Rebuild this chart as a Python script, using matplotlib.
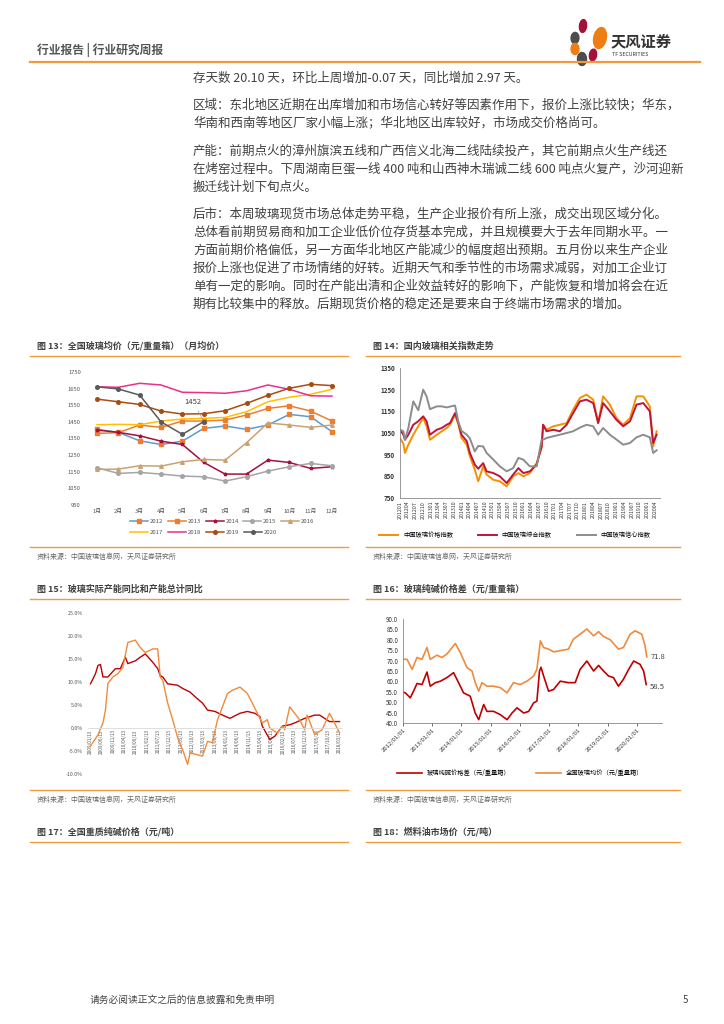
import matplotlib
matplotlib.use('Agg')
import matplotlib.pyplot as plt
from matplotlib.patches import Ellipse
from matplotlib.lines import Line2D

plt.rcParams['font.family'] = ['Noto Sans CJK SC', 'DejaVu Sans']

# ---------------- data ----------------
months = ['1月', '2月', '3月', '4月', '5月', '6月', '7月', '8月', '9月', '10月', '11月', '12月']
y2012 = [1405, 1387, 1336, 1314, 1334, 1411, 1425, 1405, 1431, 1495, 1481, 1391]
y2013 = [1381, 1385, 1431, 1417, 1455, 1455, 1461, 1491, 1531, 1547, 1515, 1455]
y2014 = [1401, 1387, 1366, 1334, 1314, 1206, 1136, 1136, 1220, 1206, 1170, 1180]
y2015 = [1174, 1140, 1146, 1136, 1124, 1120, 1094, 1120, 1154, 1180, 1200, 1186]
y2016 = [1164, 1166, 1186, 1184, 1210, 1224, 1220, 1324, 1444, 1431, 1417, 1431]
y2017 = [1433, 1435, 1433, 1455, 1467, 1471, 1477, 1511, 1571, 1598, 1616, 1646]
y2018 = [1661, 1658, 1682, 1672, 1628, 1626, 1622, 1637, 1672, 1646, 1607, 1605]
y2019 = [1587, 1571, 1555, 1515, 1497, 1499, 1517, 1561, 1610, 1652, 1676, 1668]
y2020 = [1661, 1648, 1611, 1450, 1375, 1452]

# chart 14 : glass indices (decimal year)
idx_t = [2012.00, 2012.11, 2012.16, 2012.27, 2012.43, 2012.59, 2012.75, 2012.86, 2012.97, 2013.19,
         2013.35, 2013.51, 2013.62, 2013.78, 2013.89, 2013.99, 2014.16, 2014.26, 2014.42, 2014.53,
         2014.69, 2014.80, 2015.02, 2015.23, 2015.45, 2015.66, 2015.83, 2015.99, 2016.20, 2016.42,
         2016.58, 2016.63, 2016.74, 2016.96, 2017.17, 2017.39, 2017.60, 2017.82, 2018.03, 2018.25,
         2018.41, 2018.57, 2018.79, 2019.00, 2019.22, 2019.44, 2019.65, 2019.87, 2020.08, 2020.19, 2020.30]
idx_confidence = [1065, 1058, 1019, 1073, 1196, 1155, 1250, 1219, 1160, 1173,
                  1173, 1168, 1172, 1177, 1100, 1060, 1042, 1025, 965, 990,
                  988, 958, 927, 896, 873, 888, 935, 927, 896, 896,
                  1019, 1019, 1027, 1035, 1042, 1050, 1058, 1075, 1088, 1081,
                  1042, 1073, 1042, 1020, 996, 1004, 1030, 1042, 1030, 958, 970]
idx_composite = [1065, 1042, 1019, 1042, 1088, 1104, 1127, 1104, 1042, 1065,
                 1073, 1088, 1096, 1142, 1096, 1042, 1012, 958, 904, 885,
                 911, 873, 865, 850, 819, 858, 888, 865, 873, 904,
                 988, 1088, 1058, 1065, 1058, 1088, 1142, 1196, 1204, 1188,
                 1096, 1188, 1150, 1111, 1081, 1104, 1181, 1188, 1150, 1004, 1042]
idx_price = [1027, 1000, 958, 996, 1042, 1081, 1119, 1081, 1019, 1042,
             1058, 1073, 1088, 1135, 1088, 1027, 996, 942, 881, 827,
             896, 858, 834, 827, 804, 850, 865, 850, 865, 911,
             981, 1088, 1065, 1081, 1088, 1096, 1158, 1212, 1227, 1204,
             1096, 1219, 1181, 1119, 1088, 1119, 1219, 1219, 1173, 988, 1058]
idx_ticks = ['201201', '201204', '201207', '201210', '201301', '201304', '201307', '201310',
             '201401', '201404', '201407', '201410', '201501', '201504', '201507', '201510',
             '201601', '201604', '201607', '201610', '201701', '201704', '201707', '201710',
             '201801', '201804', '201807', '201810', '201901', '201904', '201907', '201910',
             '202001', '202004']

# chart 15 : capacity YoY (%), position along axis 0..1
cap_t_red = [0.00, 0.01, 0.02, 0.03, 0.04, 0.05, 0.07, 0.10, 0.12, 0.14, 0.15, 0.18, 0.20, 0.22,
             0.25, 0.27, 0.28, 0.29, 0.31, 0.35, 0.37, 0.40, 0.42, 0.45, 0.47, 0.50, 0.53, 0.56,
             0.60, 0.63, 0.66, 0.68, 0.69, 0.72, 0.74, 0.77, 0.80, 0.82, 0.86, 0.90, 0.92, 0.96, 1.00]
cap_red = [9.6, 10.7, 11.8, 13.6, 13.8, 11.1, 11.1, 12.9, 12.9, 15.4, 14.0, 14.6, 15.4, 16.1,
           14.3, 12.9, 11.4, 11.1, 9.6, 9.3, 8.6, 7.8, 6.8, 5.4, 3.9, 3.6, 2.8, 2.1,
           3.2, 3.6, 3.2, 2.5, 0.4, -2.5, -1.8, 0.4, 0.7, 1.1, 2.1, 2.8, 2.8, 1.4, 1.4]
cap_t_or = [0.00, 0.03, 0.05, 0.06, 0.07, 0.09, 0.11, 0.13, 0.15, 0.18, 0.20, 0.22, 0.25, 0.27,
            0.28, 0.29, 0.29, 0.31, 0.33, 0.35, 0.36, 0.37, 0.39, 0.40, 0.42, 0.45, 0.47, 0.49,
            0.51, 0.53, 0.55, 0.57, 0.60, 0.63, 0.65, 0.67, 0.69, 0.71, 0.72, 0.75, 0.77, 0.78,
            0.80, 0.84, 0.86, 0.87, 0.90, 0.93, 0.96, 0.98, 1.00]
cap_orange = [-3.9, -1.5, 1.1, 3.9, 9.7, 11.1, 11.8, 13.2, 18.6, 19.1, 17.5, 16.4, 17.2, 17.2,
              11.1, 10.4, 10.4, 5.4, 1.8, -2.1, -3.6, -4.7, -7.9, -5.4, -5.7, -6.1, -2.9, -3.2,
              1.8, 4.6, 7.5, 8.2, 8.9, 7.5, 5.4, 3.2, 1.1, 1.8, 0.0, -1.1, 0.4, -0.4,
              4.6, 1.8, -0.4, 2.8, -1.4, -0.4, 3.2, 1.1, -1.1]
cap_ticks = ['2009/01/13', '2009/06/13', '2009/11/13', '2010/04/13', '2010/09/13', '2011/02/13',
             '2011/07/13', '2011/12/13', '2012/05/13', '2012/10/13', '2013/03/13', '2013/08/13',
             '2014/01/13', '2014/06/13', '2014/11/13', '2015/04/13', '2015/09/13', '2016/02/13',
             '2016/07/13', '2016/12/13', '2017/05/13', '2017/10/13', '2018/03/13']

# chart 16 : glass - soda ash spread
sp_t_or = [2012.00, 2012.14, 2012.31, 2012.48, 2012.65, 2012.82, 2012.93, 2013.16, 2013.33, 2013.50,
           2013.79, 2013.96, 2014.19, 2014.36, 2014.47, 2014.59, 2014.70, 2014.87, 2015.10, 2015.33,
           2015.56, 2015.78, 2016.01, 2016.24, 2016.47, 2016.58, 2016.70, 2016.81, 2016.98, 2017.15,
           2017.38, 2017.66, 2017.83, 2018.06, 2018.29, 2018.52, 2018.69, 2018.86, 2019.09, 2019.37,
           2019.54, 2019.77, 2019.94, 2020.17, 2020.28, 2020.34]
sp_glass = [70.6, 70.6, 65.8, 71.5, 70.6, 76.3, 70.6, 72.6, 71.5, 73.1,
            78.2, 73.9, 66.6, 65.0, 59.4, 55.3, 59.4, 57.7, 57.7, 57.0,
            54.5, 59.4, 58.5, 60.1, 62.6, 65.8, 79.5, 76.3, 75.5, 74.2,
            74.8, 75.5, 80.3, 82.7, 85.2, 81.9, 83.9, 81.6, 80.0, 75.5,
            76.3, 82.7, 84.3, 82.7, 77.1, 71.8]
sp_t_red = [2012.00, 2012.08, 2012.25, 2012.36, 2012.48, 2012.65, 2012.82, 2012.93, 2013.11, 2013.28,
            2013.50, 2013.73, 2013.96, 2014.07, 2014.30, 2014.47, 2014.59, 2014.76, 2014.87, 2015.10,
            2015.33, 2015.56, 2015.73, 2015.90, 2016.13, 2016.30, 2016.47, 2016.58, 2016.67, 2016.72,
            2016.81, 2016.98, 2017.15, 2017.38, 2017.66, 2017.89, 2018.06, 2018.29, 2018.52, 2018.69,
            2018.86, 2019.03, 2019.20, 2019.37, 2019.54, 2019.72, 2019.89, 2020.11, 2020.23, 2020.32]
sp_spread = [54.8, 54.5, 52.1, 55.3, 59.0, 58.5, 64.5, 57.7, 59.4, 60.1,
             61.8, 64.2, 57.7, 54.5, 52.9, 44.8, 41.6, 48.9, 45.6, 45.6,
             44.0, 41.6, 44.8, 47.3, 44.8, 45.6, 49.7, 50.5, 65.0, 66.8,
             62.6, 55.3, 56.1, 60.1, 59.4, 59.4, 65.8, 69.8, 65.0, 67.7,
             65.0, 62.6, 61.8, 57.7, 61.0, 65.8, 69.8, 68.2, 65.0, 58.5]
sp_ticks = ['2012/01/01', '2013/01/01', '2014/01/01', '2015/01/01', '2016/01/01',
            '2017/01/01', '2018/01/01', '2019/01/01', '2020/01/01']

body_lines = [
    '存天数 20.10 天，环比上周增加-0.07 天，同比增加 2.97 天。',
    '区域：东北地区近期在出库增加和市场信心转好等因素作用下，报价上涨比较快；华东，',
    '华南和西南等地区厂家小幅上涨；华北地区出库较好，市场成交价格尚可。',
    '产能：前期点火的漳州旗滨五线和广西信义北海二线陆续投产，其它前期点火生产线还',
    '在烤窑过程中。下周湖南巨蛋一线 400 吨和山西神木瑞诚二线 600 吨点火复产，沙河迎新',
    '搬迁线计划下旬点火。',
    '后市：本周玻璃现货市场总体走势平稳，生产企业报价有所上涨，成交出现区域分化。',
    '总体看前期贸易商和加工企业低价位存货基本完成，并且规模要大于去年同期水平。一',
    '方面前期价格偏低，另一方面华北地区产能减少的幅度超出预期。五月份以来生产企业',
    '报价上涨也促进了市场情绪的好转。近期天气和季节性的市场需求减弱，对加工企业订',
    '单有一定的影响。同时在产能出清和企业效益转好的影响下，产能恢复和增加将会在近',
    '期有比较集中的释放。后期现货价格的稳定还是要来自于终端市场需求的增加。',
]
body_y = [78, 105, 123, 151, 169, 187, 214, 232, 250, 268, 286, 304]

# ---------------- figure ----------------
W, H = 724, 1024
fig = plt.figure(figsize=(7.24, 10.24), dpi=100)
fig.patch.set_facecolor('white')

ORANGE = '#F39A3C'
TXT = '#404040'
GREY = '#666666'


def fx(x):
    return x / W


def fy(y):
    return 1 - y / H


def axes_px(l, t, r, b):
    return fig.add_axes([l / W, 1 - b / H, (r - l) / W, (b - t) / H])


def hline(x0, x1, y, color=ORANGE, lw=1.2):
    fig.add_artist(Line2D([fx(x0), fx(x1)], [fy(y), fy(y)], color=color, lw=lw,
                          transform=fig.transFigure))


def text(x, y, s, **kw):
    fig.text(fx(x), fy(y), s, **kw)


# header
text(37, 50, '行业报告 | 行业研究周报', fontsize=8.5, color='#555555', fontweight='bold', va='center')
hline(30, 700, 62, ORANGE, 1.6)
# logo petals
petals = [((583, 26), 7, 13, -15, '#A3123A'), ((600, 38), 12, 22, -30, '#EE7D14'),
          ((575, 38), 8, 11, 50, '#4D4D4D'), ((575, 49), 8, 11, -50, '#EE7D14'),
          ((582, 59), 9, 13, 15, '#4D4D4D'), ((593, 55), 7, 12, -25, '#A3123A')]
for (cx, cy), w, h, ang, c in petals:
    e = Ellipse((fx(cx), fy(cy)), w / W, h / H, angle=ang, color=c, transform=fig.transFigure)
    fig.add_artist(e)
text(611, 41, '天风证券', fontsize=11, color='#333333', fontweight='bold', va='center')
text(612, 55, 'TF SECURITIES', fontsize=3.8, color='#333333', va='center')

# body text
for s, y in zip(body_lines, body_y):
    text(193, y, s, fontsize=9, color=TXT, va='center')


def chart_frame(x0, x1, title, ytitle, ybottom, source_y):
    text(x0 + 7, ytitle, title, fontsize=6.5, color=TXT, fontweight='bold', va='center')
    hline(x0, x1, ytitle + 10, ORANGE, 1.0)
    if ybottom is not None:
        hline(x0, x1, ybottom, ORANGE, 1.0)
    if source_y is not None:
        text(x0 + 7, source_y, '资料来源：中国玻璃信息网，天风证券研究所', fontsize=5, color=GREY, va='center')


chart_frame(30, 348, '图 13：全国玻璃均价（元/重量箱）（月均价）', 346, 547, 557)
chart_frame(366, 680, '图 14：国内玻璃相关指数走势', 346, 547, 557)
chart_frame(30, 348, '图 15：玻璃实际产能同比和产能总计同比', 589, 790, 800)
chart_frame(366, 680, '图 16：玻璃纯碱价格差（元/重量箱）', 589, 790, 800)
chart_frame(30, 348, '图 17：全国重质纯碱价格（元/吨）', 832, None, None)
chart_frame(366, 680, '图 18：燃料油市场价（元/吨）', 832, None, None)

# footer
text(90, 1000, '请务必阅读正文之后的信息披露和免责申明', fontsize=7, color='#444444', va='center')
text(683, 1000, '5', fontsize=7, color='#444444', va='center')

# ---------------- chart 13 ----------------
ax = axes_px(85, 372, 345, 505)
xm = list(range(1, 13))
series13 = [
    ('2012', y2012, '#5B9BD5', 's', '#ED7D31'),
    ('2013', y2013, '#ED7D31', 's', '#ED7D31'),
    ('2014', y2014, '#A5113C', '*', '#A5113C'),
    ('2015', y2015, '#A5A5A5', 'o', '#A5A5A5'),
    ('2016', y2016, '#C8A272', '^', '#C8A272'),
    ('2017', y2017, '#FFC000', '', '#FFC000'),
    ('2018', y2018, '#E8308C', '', '#E8308C'),
    ('2019', y2019, '#A84D12', 'o', '#A84D12'),
    ('2020', y2020, '#5A5A5A', 'o', '#5A5A5A'),
]
handles = []
for name, vals, c, m, mc in series13:
    h, = ax.plot(xm[:len(vals)], vals, color=c, lw=1.1, marker=m if m else None, ms=2.6,
                 mfc=mc, mec=mc, label=name)
    handles.append(h)
ax.annotate('1452', xy=(6, 1452), xytext=(5.5, 1560), fontsize=5.5, color='#404040',
            ha='center', arrowprops=dict(arrowstyle='-', color='#999999', lw=0.5))
ax.set_xlim(0.44, 12.61)
ax.set_ylim(950, 1750)
ax.set_yticks(range(950, 1751, 100))
ax.set_xticks(xm)
ax.set_xticklabels(months)
for sp in ax.spines.values():
    sp.set_visible(False)
ax.tick_params(length=0, labelsize=4.2, colors='#555555', pad=3)
fig.legend(handles[:5], [s[0] for s in series13[:5]], loc='center left',
           bbox_to_anchor=(fx(130), fy(521)), ncol=5, frameon=False, fontsize=4.3,
           handlelength=3, columnspacing=0.8, handletextpad=0.3, labelcolor='#555555',
           borderaxespad=0, borderpad=0)
fig.legend(handles[5:], [s[0] for s in series13[5:]], loc='center left',
           bbox_to_anchor=(fx(130), fy(532)), ncol=4, frameon=False, fontsize=4.3,
           handlelength=3, columnspacing=0.8, handletextpad=0.3, labelcolor='#555555',
           borderaxespad=0, borderpad=0)

# ---------------- chart 14 ----------------
ax = axes_px(400, 368, 660, 498)
ax.plot(idx_t, idx_price, color='#F39200', lw=1.4, label='中国玻璃价格指数')
ax.plot(idx_t, idx_composite, color='#C0143C', lw=1.4, label='中国玻璃综合指数')
ax.plot(idx_t, idx_confidence, color='#8C8C8C', lw=1.4, label='中国玻璃信心指数')
ax.set_xlim(2012.0, 2020.41)
ax.set_ylim(750, 1350)
ax.set_yticks(range(750, 1351, 100))
ax.set_xticks([2012 + i * 0.25 for i in range(len(idx_ticks))])
ax.set_xticklabels(idx_ticks, rotation=90)
ax.spines['top'].set_visible(False)
ax.spines['right'].set_visible(False)
for s in ('left', 'bottom'):
    ax.spines[s].set_color('#888888')
    ax.spines[s].set_linewidth(0.6)
ax.tick_params(axis='y', length=0, labelsize=4.5, colors='#333333')
ax.tick_params(axis='x', length=0, labelsize=3.8, colors='#333333', pad=2)
for t in ax.get_yticklabels():
    t.set_fontweight('bold')
fig.legend(*ax.get_legend_handles_labels(), loc='center', bbox_to_anchor=(fx(515), fy(535)),
           ncol=3, frameon=False, fontsize=4.5, handlelength=3, columnspacing=4, handletextpad=0.8)

# ---------------- chart 15 ----------------
ax = axes_px(88, 613, 342, 774)
for s in ('top', 'right', 'left'):
    ax.spines[s].set_visible(False)
ax.spines['bottom'].set_position(('data', 0))
ax.spines['bottom'].set_color('#D9D9D9')
ax.spines['bottom'].set_linewidth(0.6)
ax.plot(cap_t_red, cap_red, color='#C00000', lw=1.0)
ax.plot(cap_t_or, cap_orange, color='#F08A3C', lw=1.0)
ax.set_xlim(-0.01, 1.01)
ax.set_ylim(-10, 25)
ax.set_yticks(range(-10, 26, 5))
ax.set_yticklabels(['%.1f%%' % v for v in range(-10, 26, 5)])
ax.set_xticks([i / (len(cap_ticks) - 1) for i in range(len(cap_ticks))])
ax.set_xticklabels(cap_ticks, rotation=90, va='top', ha='center')
ax.tick_params(axis='y', length=0, labelsize=3.8, colors='#555555')
ax.tick_params(axis='x', length=0, labelsize=3.3, colors='#555555', pad=1)

# ---------------- chart 16 ----------------
ax = axes_px(403, 619, 662, 723)
ax.plot(sp_t_red, sp_spread, color='#C00000', lw=1.2, label='玻璃纯碱价格差（元/重量箱）')
ax.plot(sp_t_or, sp_glass, color='#F08A3C', lw=1.2, label='全国玻璃均价（元/重量箱）')
ax.text(sp_t_or[-1] + 0.12, sp_glass[-1], '71.8', fontsize=5.5, color='#404040', va='center')
ax.text(sp_t_red[-1] + 0.12, sp_spread[-1] - 1.2, '58.5', fontsize=5.5, color='#404040', va='center')
ax.set_xlim(2012.0, 2020.86)
ax.set_ylim(40, 90)
ax.set_yticks(range(40, 91, 5))
ax.set_yticklabels(['%.1f' % v for v in range(40, 91, 5)])
ax.set_xticks(range(2012, 2021))
ax.set_xticklabels(sp_ticks, rotation=45, ha='right', rotation_mode='anchor')
for s in ('top', 'right'):
    ax.spines[s].set_visible(False)
for s in ('left', 'bottom'):
    ax.spines[s].set_color('#888888')
    ax.spines[s].set_linewidth(0.6)
ax.tick_params(axis='y', length=0, labelsize=4.5, colors='#333333')
ax.tick_params(axis='x', length=2, width=0.5, labelsize=4.3, colors='#333333', pad=1)
fig.legend(*ax.get_legend_handles_labels(), loc='center', bbox_to_anchor=(fx(520), fy(773)),
           ncol=2, frameon=False, fontsize=4.5, handlelength=4, columnspacing=4, handletextpad=0.8)

fig.savefig('out.png', dpi=100)
